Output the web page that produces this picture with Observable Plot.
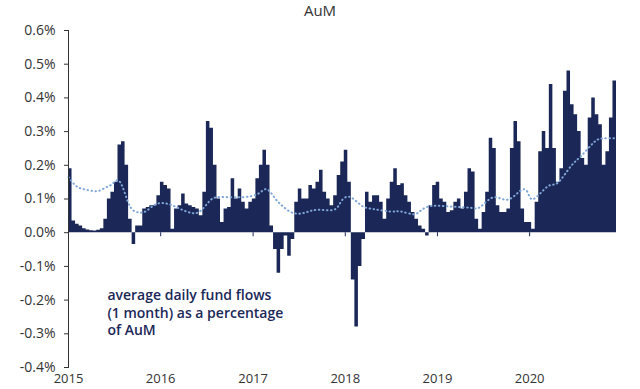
<!DOCTYPE html>
<html>
<head>
<meta charset="utf-8">
<script src="https://cdn.jsdelivr.net/npm/d3@7"></script>
<script src="https://cdn.jsdelivr.net/npm/@observablehq/plot@0.6"></script>
<style>
  html, body { margin: 0; padding: 0; background: #fff; }
  body { width: 640px; height: 389px; overflow: hidden; font-family: "Open Sans", sans-serif; }
  #title { height: 20px; line-height: 20px; text-align: center; font-size: 15px; color: #333; }
</style>
</head>
<body>
<div id="title">AuM</div>
<div id="chart"></div>
<script>
// ---- data ----
const startDate = "2015-01-01";
const endDate = "2020-12-10";
const stepDays = 14; // one value every two weeks
const flowValues = [
  0.19, 0.035, 0.025, 0.02, 0.012, 0.008, 0.006, 0.005, 0.007, 0.012,
  0.04, 0.10, 0.12, 0.15, 0.26, 0.27, 0.20, 0.04, -0.035, 0.02,
  0.02, 0.07, 0.075, 0.08, 0.08, 0.11, 0.15, 0.14, 0.13, 0.01,
  0.07, 0.08, 0.115, 0.085, 0.08, 0.075, 0.07, 0.05, 0.12, 0.33,
  0.31, 0.20, 0.10, 0.03, 0.07, 0.075, 0.16, 0.10, 0.13, 0.09,
  0.07, 0.09, 0.10, 0.16, 0.20, 0.245, 0.20, 0.02, -0.05, -0.12,
  -0.05, -0.01, -0.07, -0.02, 0.09, 0.13, 0.10, 0.10, 0.14, 0.13,
  0.15, 0.185, 0.12, 0.10, 0.08, 0.11, 0.17, 0.21, 0.245, 0.15,
  -0.14, -0.28, -0.10, -0.02, 0.12, 0.09, 0.11, 0.11, 0.09, 0.04,
  0.10, 0.15, 0.19, 0.14, 0.145, 0.11, 0.09, 0.06, 0.04, 0.02,
  0.01, -0.01, 0.08, 0.14, 0.15, 0.10, 0.09, 0.06, 0.065, 0.09,
  0.10, 0.07, 0.12, 0.19, 0.18, 0.04, 0.01, 0.06, 0.12, 0.28,
  0.25, 0.08, 0.06, 0.06, 0.07, 0.25, 0.33, 0.27, 0.07, 0.03,
  0.03, 0.01, 0.09, 0.24, 0.30, 0.25, 0.44, 0.25, 0.15, 0.19,
  0.42, 0.48, 0.38, 0.35, 0.30, 0.22, 0.20, 0.34, 0.40, 0.35,
  0.32, 0.20, 0.24, 0.34, 0.45
];
const avgDates = [
  "2015-01-01","2015-01-29","2015-02-25","2015-03-29","2015-04-30","2015-05-31",
  "2015-06-24","2015-07-18","2015-08-11","2015-09-04","2015-10-05","2015-11-06",
  "2015-12-15","2016-02-01","2016-03-20","2016-05-06","2016-06-07","2016-07-08",
  "2016-08-09","2016-10-15","2016-12-22","2017-01-30","2017-02-27","2017-03-31",
  "2017-05-01","2017-06-10","2017-07-28","2017-09-13","2017-11-16","2017-12-13",
  "2018-01-10","2018-02-11","2018-03-14","2018-04-23","2018-06-29","2018-08-08",
  "2018-09-28","2018-10-26","2018-11-23","2019-01-01","2019-03-06","2019-05-12",
  "2019-06-21","2019-08-11","2019-10-06","2019-11-26","2019-12-24","2020-01-17",
  "2020-03-12","2020-04-21","2020-06-11","2020-07-21","2020-09-10","2020-10-16",
  "2020-12-06"
];
const avgValues = [
  0.165, 0.14, 0.13, 0.125, 0.124, 0.135,
  0.145, 0.155, 0.12, 0.075, 0.06, 0.065,
  0.085, 0.085, 0.07, 0.058, 0.065, 0.09,
  0.105, 0.105, 0.108, 0.12, 0.128, 0.10,
  0.077, 0.058, 0.06, 0.068, 0.068, 0.09,
  0.107, 0.095, 0.077, 0.07, 0.063, 0.063,
  0.055, 0.065, 0.077, 0.08, 0.077, 0.074,
  0.077, 0.105, 0.098, 0.125, 0.12, 0.10,
  0.137, 0.148, 0.196, 0.226, 0.267, 0.28,
  0.28
];
const yTicks = [-0.4, -0.3, -0.2, -0.1, 0.0, 0.1, 0.2, 0.3, 0.4, 0.5, 0.6];
const yearLabels = ["2015", "2016", "2017", "2018", "2019", "2020"];
const annotationText = "average daily fund flows\n(1 month) as a percentage\nof AuM";
const annotationDate = "2015-06-04";
const annotationValue = -0.164;

// ---- build tables ----
const start = new Date(startDate);
const flows = flowValues.map((v, i) => ({date: d3.utcDay.offset(start, stepDays * i), value: v}));
const flowsArea = [...flows, {date: new Date(endDate), value: flowValues[flowValues.length - 1]}];
const avg = avgDates.map((d, i) => ({date: new Date(d), value: avgValues[i]}));
const yearDates = yearLabels.map(y => new Date(y + "-01-01"));

const navy = "#1b2857";
const chart = Plot.plot({
  width: 640,
  height: 369,
  marginLeft: 68,
  marginRight: 24,
  marginTop: 10,
  marginBottom: 22,
  style: {fontFamily: "Open Sans, sans-serif", color: "#333", background: "#fff"},
  x: {type: "utc", domain: [start, new Date(endDate)]},
  y: {domain: [-0.4, 0.6]},
  marks: [
    Plot.areaY(flowsArea, {x: "date", y: "value", fill: navy, curve: "step-after"}),
    Plot.ruleX(yearDates.slice(1), {y1: 0, y2: -0.012, stroke: navy, strokeWidth: 1}),
    Plot.line(avg, {x: "date", y: "value", stroke: "#7ea6d8", strokeWidth: 2,
      strokeDasharray: "0.5 3.5", strokeLinecap: "round", curve: "natural"}),
    Plot.frame({anchor: "left", stroke: "#333", strokeWidth: 1}),
    Plot.axisY({ticks: yTicks, tickFormat: d => d.toFixed(1) + "%", tickSize: 4, tickPadding: 9,
      fontSize: 14, stroke: "#333", fill: "#333", label: null}),
    Plot.axisX({ticks: yearDates, tickFormat: d3.utcFormat("%Y"), tickSize: 0, tickPadding: 6,
      fontSize: 13, fill: "#333", label: null}),
    Plot.text([annotationText], {x: () => new Date(annotationDate), y: () => annotationValue,
      text: d => d, textAnchor: "start", lineAnchor: "top", lineHeight: 1.25,
      fontSize: 14, fontWeight: 600, fill: navy})
  ]
});
document.getElementById("chart").appendChild(chart);
</script>
</body>
</html>
